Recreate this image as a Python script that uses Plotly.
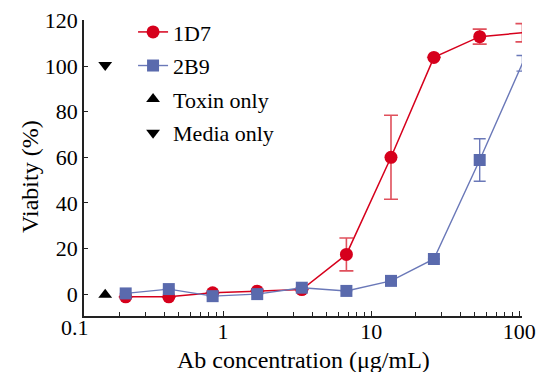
import plotly.graph_objects as go

# Data
conc = [0.22, 0.43, 0.85, 1.7, 3.4, 6.8, 13.6, 26.5, 54, 105]
v_1d7 = [-1.2, -1.2, 0.6, 1.3, 2.0, 17.4, 60.0, 103.8, 112.9, 114.6]
e_1d7 = [None, None, None, None, None, 7.2, 18.4, None, 3.3, 4.0]
v_2b9 = [0.3, 2.2, -0.9, 0.0, 2.8, 1.4, 5.8, 15.4, 58.8, 101.2]
e_2b9 = [None, None, None, None, None, None, None, None, 9.3, 3.4]
ctrl_x = [0.16]
toxin_only = [-0.3]
media_only = [100.5]

x_ticks = [1, 10, 100]
x_ticktext = ["1", "10", "100"]
x_minor = [0.2, 0.3, 0.4, 0.5, 0.6, 0.7, 0.8, 0.9,
           2, 3, 4, 5, 6, 7, 8, 9,
           20, 30, 40, 50, 60, 70, 80, 90]
y_ticks = [0, 20, 40, 60, 80, 100, 120]

RED = "#d6001c"
RED_ERR = "#e0505c"
BLUE = "#5a6aad"
BLUE_LINE = "#6a78b8"
FONT = "Times New Roman, Liberation Serif, serif"

X_RANGE = [-0.939, 2.018]

fig = go.Figure()
fig.add_trace(go.Scatter(
    x=conc, y=v_1d7, name="1D7", mode="lines+markers", legendgroup="a",
    line=dict(color=RED, width=1.5),
    marker=dict(symbol="circle", size=13, color=RED),
    error_y=dict(type="data", array=e_1d7, visible=True, color=RED_ERR,
                 thickness=1.6, width=7),
    cliponaxis=False,
))
fig.add_trace(go.Scatter(
    x=conc, y=v_2b9, name="2B9", mode="lines+markers", legendgroup="b",
    line=dict(color=BLUE_LINE, width=1.4),
    marker=dict(symbol="square", size=12, color=BLUE),
    error_y=dict(type="data", array=e_2b9, visible=True, color=BLUE_LINE,
                 thickness=1.4, width=6),
    cliponaxis=False,
))
fig.add_trace(go.Scatter(
    x=ctrl_x, y=toxin_only, name="Toxin only", mode="markers", legendgroup="c",
    marker=dict(symbol="triangle-up", size=12, color="black"),
    cliponaxis=False,
))
fig.add_trace(go.Scatter(
    x=ctrl_x, y=media_only, name="Media only", mode="markers", legendgroup="d",
    marker=dict(symbol="triangle-down", size=12, color="black"),
    cliponaxis=False,
))

# paper position of the "0.1" label (just left of the visible axis range)
x01 = (-1 - X_RANGE[0]) / (X_RANGE[1] - X_RANGE[0])

fig.update_layout(
    width=539, height=372,
    margin=dict(l=84, r=17, t=20, b=56, autoexpand=False),
    paper_bgcolor="white", plot_bgcolor="white",
    font=dict(family=FONT, size=22, color="black"),
    showlegend=True,
    legend=dict(x=0.112, y=1.03, xanchor="left", yanchor="top",
                bgcolor="rgba(0,0,0,0)", font=dict(family=FONT, size=22),
                itemwidth=30, tracegroupgap=2),
    xaxis=dict(
        type="log", range=X_RANGE, automargin=False,
        tickmode="array", tickvals=x_ticks, ticktext=x_ticktext,
        ticks="inside", ticklen=5, tickwidth=1.3, tickcolor="#222",
        ticklabelstandoff=-5,
        showline=True, linecolor="#222", linewidth=1.5,
        showgrid=False, zeroline=False,
        tickfont=dict(family=FONT, size=22),
        minor=dict(tickmode="array", tickvals=x_minor, ticks="inside",
                   ticklen=4, tickwidth=1.2, tickcolor="#222", showgrid=False),
    ),
    yaxis=dict(
        range=[-9.6, 120.2], automargin=False,
        tickmode="array", tickvals=y_ticks,
        ticks="inside", ticklen=4, tickwidth=1.3, tickcolor="#222",
        showline=True, linecolor="#222", linewidth=1.5,
        showgrid=False, zeroline=False,
        tickfont=dict(family=FONT, size=22),
    ),
    annotations=[
        dict(text="0.1", x=x01, y=0, xref="paper", yref="paper",
             xanchor="center", yanchor="top", yshift=3, showarrow=False,
             font=dict(family=FONT, size=22, color="black")),
        dict(text="Ab concentration (μg/mL)", x=0.5, y=0, xref="paper",
             yref="paper", xanchor="center", yanchor="middle", yshift=-44,
             showarrow=False, font=dict(family=FONT, size=24, color="black")),
        dict(text="Viabity (%)", x=0, y=0.47, xref="paper", yref="paper",
             xanchor="center", yanchor="middle", xshift=-54, textangle=-90,
             showarrow=False, font=dict(family=FONT, size=24, color="black")),
    ],
)

fig.write_html("out.html")
